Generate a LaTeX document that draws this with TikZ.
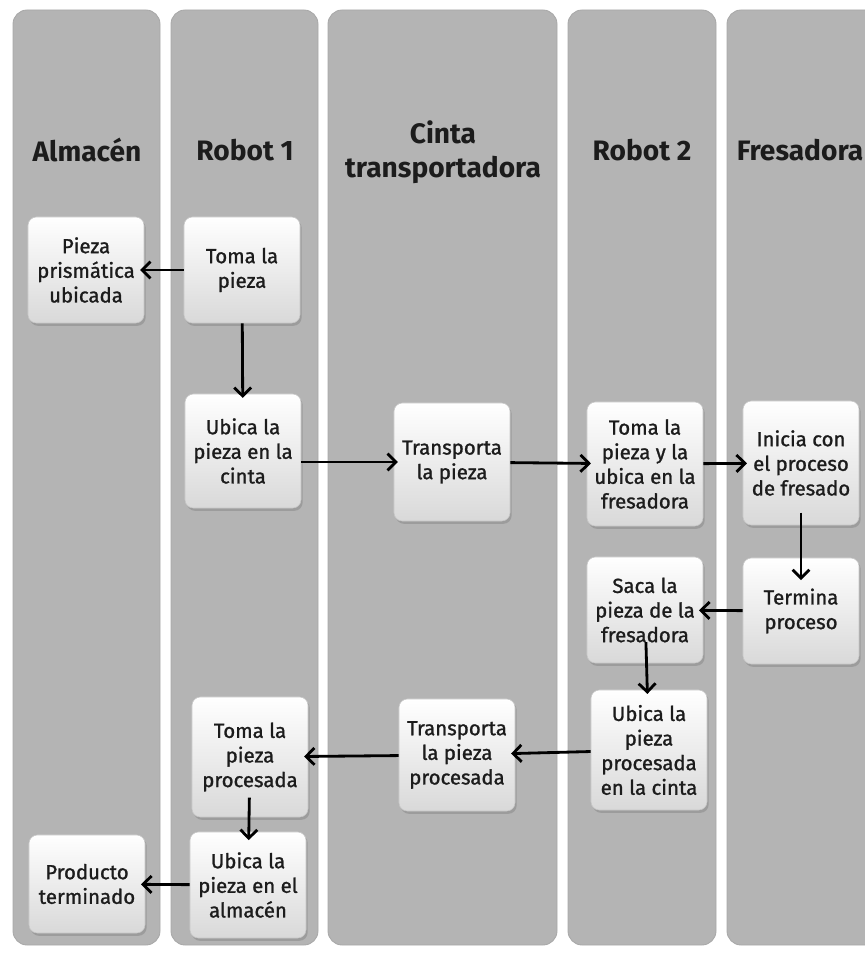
\documentclass[tikz,border=0pt]{standalone}
\usepackage{fontspec}
\setmainfont{Fira Sans}
\newfontfamily\boxfont[FakeBold=1.2]{Fira Sans}
\usetikzlibrary{arrows.meta,shadows}
\definecolor{lanegray}{RGB}{180,180,180}
\definecolor{inkgray}{RGB}{28,28,28}

\begin{document}
\begin{tikzpicture}[x=0.025cm,y=-0.025cm,
    lane/.style={fill=lanegray,draw=gray!68,line width=0.6pt,rounded corners=10pt},
    head/.style={font=\fontsize{20}{24}\selectfont\bfseries,text=inkgray,align=center},
    box/.style={rounded corners=6pt,top color=white,bottom color=gray!30,draw=gray!45,line width=0.4pt,
      drop shadow={opacity=0.45,shadow xshift=1.2pt,shadow yshift=-2pt},
      minimum width=2.9cm,minimum height=2.65cm,align=center,text=inkgray,
      font=\boxfont\fontsize{14.5}{17.5}\selectfont},
    flow/.style={-{Straight Barb[length=6pt,width=12pt]},line width=2pt,shorten >=-3pt}]
  \useasboundingbox (0,0) rectangle (865,953);
  \clip (0,0) rectangle (865,953);
  % five lanes
  \draw[lane] (13,10) rectangle (160,945);
  \draw[lane] (171,10) rectangle (318,945);
  \draw[lane] (328,10) rectangle (557,945);
  \draw[lane] (568,10) rectangle (716,945);
  \draw[lane] (727,10) rectangle (880,945);
  % lane titles
  \node[head] (halmacen) at (87,150) {Almacén};
  \node[head] (hrobot1) at (245,150) {Robot 1};
  \node[head] (hcinta) at (443,152) {Cinta\\transportadora};
  \node[head] (hrobot2) at (642,150) {Robot 2};
  \node[head] (hfresa) at (800,150) {Fresadora};
  % steps
  \node[box] (pieza) at (86,270) {Pieza\\prismática\\ubicada};
  \node[box] (toma) at (242,270) {Toma la\\pieza};
  \node[box,minimum height=2.85cm] (ubica) at (243,451) {Ubica la\\pieza en la\\cinta};
  \node[box,minimum height=2.95cm] (transp) at (452,462) {Transporta\\la pieza};
  \node[box,minimum height=3.1cm] (tomafres) at (645,464) {Toma la\\pieza y la\\ubica en la\\fresadora};
  \node[box,minimum height=3.1cm] (inicia) at (801,463) {Inicia con\\el proceso\\de fresado};
  \node[box] (termina) at (801,611) {Termina\\proceso};
  \node[box] (saca) at (645,610) {Saca la\\pieza de la\\fresadora};
  \node[box,minimum height=3cm] (ubicaproc) at (649,750) {Ubica la\\pieza\\procesada\\en la cinta};
  \node[box,minimum height=2.8cm] (transproc) at (457,755) {Transporta\\la pieza\\procesada};
  \node[box,minimum height=3cm] (tomaproc) at (250,757) {Toma la\\pieza\\procesada};
  \node[box] (ubicaalm) at (248,885) {Ubica la\\pieza en el\\almacén};
  \node[box,minimum height=2.45cm] (producto) at (87,884) {Producto\\terminado};
  % arrows
  \draw[flow] (toma) -- (pieza);
  \draw[flow] (toma) -- (ubica);
  \draw[flow] (ubica.east |- transp.west) -- (transp.west);
  \draw[flow] (transp) -- (tomafres);
  \draw[flow] (tomafres) -- (inicia);
  \draw[flow,shorten <=-9pt,shorten >=-16pt] (inicia) -- (termina);
  \draw[flow] (termina) -- (saca);
  \draw[flow,shorten <=-15pt] (saca) -- (ubicaproc);
  \draw[flow] (ubicaproc) -- (transproc);
  \draw[flow] (transproc) -- (tomaproc);
  \draw[flow,shorten <=-14pt,shorten >=-6pt] (tomaproc) -- (ubicaalm);
  \draw[flow] (ubicaalm) -- (producto);
\end{tikzpicture}
\end{document}
